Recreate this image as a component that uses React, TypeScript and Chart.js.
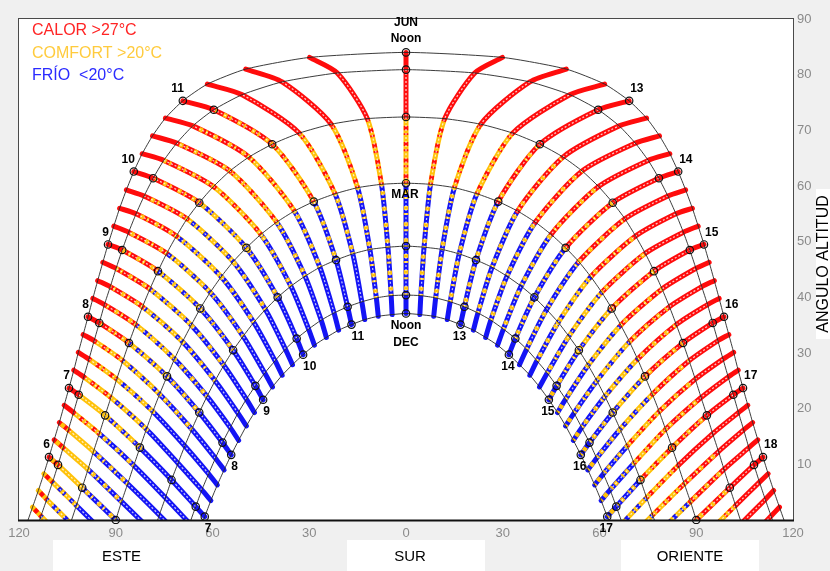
import { useEffect, useRef } from 'react';
import { Chart, registerables } from 'chart.js';

Chart.register(...registerables);

// ---- time of day (solar), every 15 minutes ----
const TIMES = ['5:15','5:30','5:45','6:00','6:15','6:30','6:45','7:00','7:15','7:30','7:45','8:00','8:15','8:30','8:45','9:00','9:15','9:30','9:45','10:00','10:15','10:30','10:45','11:00','11:15','11:30','11:45','12:00','12:15','12:30','12:45','13:00','13:15','13:30','13:45','14:00','14:15','14:30','14:45','15:00','15:15','15:30','15:45','16:00','16:15','16:30','16:45','17:00','17:15','17:30','17:45','18:00','18:15','18:30','18:45'];

// ---- date levels (21st of month), from lowest to highest path ----
const LEVELS = ['DEC', 'ENE/NOV', 'FEB/OCT', 'MAR/SEP', 'ABR/AGO', 'MAY/JUL', 'JUN'];

// altitude (deg) and azimuth from south (deg, east negative) for every time
const DEC_ALT = [null,null,null,null,null,null,null,0.6,3.5,6.3,9.0,11.7,14.3,16.9,19.3,21.6,23.9,26.0,27.9,29.7,31.4,32.8,34.1,35.1,36.0,36.6,36.9,37.1,36.9,36.6,36.0,35.1,34.1,32.8,31.4,29.7,27.9,26.0,23.9,21.6,19.3,16.9,14.3,11.7,9.0,6.3,3.5,0.6,null,null,null,null,null,null,null];
const DEC_AZ = [null,null,null,null,null,null,null,-62.4,-60.5,-58.5,-56.4,-54.2,-51.9,-49.5,-47.0,-44.3,-41.4,-38.4,-35.2,-31.9,-28.4,-24.7,-20.9,-16.9,-12.8,-8.6,-4.3,0,4.3,8.6,12.8,16.9,20.9,24.7,28.4,31.9,35.2,38.4,41.4,44.3,47.0,49.5,51.9,54.2,56.4,58.5,60.5,62.4,null,null,null,null,null,null,null];

const JAN_ALT = [null,null,null,null,null,-3.6,-0.6,2.4,5.4,8.3,11.1,13.9,16.6,19.2,21.7,24.1,26.4,28.6,30.7,32.6,34.3,35.9,37.2,38.3,39.2,39.9,40.3,40.4,40.3,39.9,39.2,38.3,37.2,35.9,34.3,32.6,30.7,28.6,26.4,24.1,21.7,19.2,16.6,13.9,11.1,8.3,5.4,2.4,-0.6,-3.6,null,null,null,null,null];
const JAN_AZ = [null,null,null,null,null,-68.9,-67.1,-65.2,-63.3,-61.2,-59.1,-56.9,-54.5,-52.1,-49.5,-46.7,-43.8,-40.6,-37.4,-33.9,-30.2,-26.3,-22.3,-18.1,-13.7,-9.2,-4.6,0,4.6,9.2,13.7,18.1,22.3,26.3,30.2,33.9,37.4,40.6,43.8,46.7,49.5,52.1,54.5,56.9,59.1,61.2,63.3,65.2,67.1,68.9,null,null,null,null,null];

const FEB_ALT = [null,null,null,null,-2.3,0.9,4.0,7.2,10.2,13.3,16.3,19.3,22.2,25.0,27.8,30.5,33.0,35.5,37.8,40.0,42.0,43.8,45.4,46.7,47.8,48.6,49.0,49.2,49.0,48.6,47.8,46.7,45.4,43.8,42.0,40.0,37.8,35.5,33.0,30.5,27.8,25.0,22.2,19.3,16.3,13.3,10.2,7.2,4.0,0.9,-2.3,null,null,null,null];
const FEB_AZ = [null,null,null,null,-78.3,-76.5,-74.6,-72.7,-70.7,-68.6,-66.4,-64.1,-61.7,-59.2,-56.5,-53.6,-50.5,-47.2,-43.6,-39.8,-35.7,-31.3,-26.7,-21.7,-16.5,-11.2,-5.6,0,5.6,11.2,16.5,21.7,26.7,31.3,35.7,39.8,43.6,47.2,50.5,53.6,56.5,59.2,61.7,64.1,66.4,68.6,70.7,72.7,74.6,76.5,78.3,null,null,null,null];

const MAR_ALT = [null,null,-3.3,0,3.3,6.5,9.8,13.0,16.3,19.5,22.6,25.8,28.9,32.0,35.0,38.0,40.9,43.7,46.4,48.9,51.3,53.5,55.5,57.2,58.6,59.7,60.3,60.5,60.3,59.7,58.6,57.2,55.5,53.5,51.3,48.9,46.4,43.7,40.9,38.0,35.0,32.0,28.9,25.8,22.6,19.5,16.3,13.0,9.8,6.5,3.3,0,-3.3,null,null];
const MAR_AZ = [null,null,-91.9,-90.0,-88.2,-86.3,-84.4,-82.5,-80.5,-78.5,-76.4,-74.1,-71.8,-69.3,-66.6,-63.8,-60.7,-57.3,-53.6,-49.5,-45.0,-40.1,-34.6,-28.6,-22.0,-15.0,-7.6,0,7.6,15.0,22.0,28.6,34.6,40.1,45.0,49.5,53.6,57.3,60.7,63.8,66.6,69.3,71.8,74.1,76.4,78.5,80.5,82.5,84.4,86.3,88.2,90.0,91.9,null,null];

const APR_ALT = [-3.7,-0.6,2.6,5.8,9.1,12.3,15.5,18.8,22.0,25.3,28.6,31.8,35.1,38.3,41.5,44.7,47.9,51.0,54.1,57.0,59.9,62.7,65.2,67.5,69.5,71.1,72.1,72.4,72.1,71.1,69.5,67.5,65.2,62.7,59.9,57.0,54.1,51.0,47.9,44.7,41.5,38.3,35.1,31.8,28.6,25.3,22.0,18.8,15.5,12.3,9.1,5.8,2.6,-0.6,-3.7];
const APR_AZ = [-105.9,-104.0,-102.2,-100.4,-98.6,-96.9,-95.1,-93.3,-91.5,-89.7,-87.8,-85.9,-83.8,-81.7,-79.4,-76.9,-74.2,-71.2,-67.9,-64.1,-59.7,-54.6,-48.7,-41.5,-33.1,-23.2,-12.0,0,12.0,23.2,33.1,41.5,48.7,54.6,59.7,64.1,67.9,71.2,74.2,76.9,79.4,81.7,83.8,85.9,87.8,89.7,91.5,93.3,95.1,96.9,98.6,100.4,102.2,104.0,105.9];

const MAY_ALT = [0.7,3.7,6.8,9.9,13.0,16.2,19.3,22.5,25.7,28.9,32.2,35.4,38.7,41.9,45.2,48.5,51.7,55.0,58.2,61.4,64.6,67.7,70.8,73.7,76.4,78.7,80.3,80.9,80.3,78.7,76.4,73.7,70.8,67.7,64.6,61.4,58.2,55.0,51.7,48.5,45.2,41.9,38.7,35.4,32.2,28.9,25.7,22.5,19.3,16.2,13.0,9.9,6.8,3.7,0.7];
const MAY_AZ = [-113.2,-111.4,-109.6,-107.9,-106.3,-104.7,-103.1,-101.5,-99.9,-98.3,-96.7,-95.1,-93.5,-91.7,-89.9,-88.0,-86.0,-83.7,-81.2,-78.4,-75.1,-71.1,-66.1,-59.6,-50.8,-38.4,-21.3,0,21.3,38.4,50.8,59.6,66.1,71.1,75.1,78.4,81.2,83.7,86.0,88.0,89.9,91.7,93.5,95.1,96.7,98.3,99.9,101.5,103.1,104.7,106.3,107.9,109.6,111.4,113.2];

const JUN_ALT = [2.3,5.3,8.3,11.3,14.4,17.5,20.6,23.7,26.9,30.1,33.3,36.5,39.8,43.0,46.3,49.5,52.8,56.0,59.3,62.6,65.8,69.0,72.2,75.3,78.3,81.0,83.1,84.0,83.1,81.0,78.3,75.3,72.2,69.0,65.8,62.6,59.3,56.0,52.8,49.5,46.3,43.0,39.8,36.5,33.3,30.1,26.9,23.7,20.6,17.5,14.4,11.3,8.3,5.3,2.3];
const JUN_AZ = [-115.8,-114.0,-112.3,-110.7,-109.1,-107.5,-106.0,-104.5,-103.0,-101.6,-100.1,-98.6,-97.1,-95.6,-94.0,-92.4,-90.6,-88.8,-86.7,-84.4,-81.8,-78.6,-74.6,-69.2,-61.6,-49.7,-29.9,0,29.9,49.7,61.6,69.2,74.6,78.6,81.8,84.4,86.7,88.8,90.6,92.4,94.0,95.6,97.1,98.6,100.1,101.6,103.0,104.5,106.0,107.5,109.1,110.7,112.3,114.0,115.8];

// sunrise / sunset azimuth of each date path
const RISE_AZ = [62.8, 66.7, 77.0, 90.0, 103.7, 113.6, 117.2];

// temperature class along each time line, per segment (DEC-ENE .. MAY-JUN); main + mixed
const COLOR_SPEC = [
  '- - - - YB YR', '- - - - YB YR', '- - - B YB YR', '- - - BY Y RY', '- - B BY Y RY', '- B B BY Y RY', '- B B BY YR R',
  'B B B YB Y R', 'B B B YB YR R', 'B B B YB YR R', 'B B BY YB YR R',
  'B B BY YB RY R', 'B B BY YB RY R', 'B B BY YB RY R', 'B B BY YB RY R',
  'B B BY YB RY R', 'B B BY YB RY R', 'B B BY YB RY R', 'B B BY YB RY R',
  'B B BY YB RY R', 'B B BY YR RY R', 'B B BY YR RY R', 'B B BY YR RY R',
  'B B BY YR RY R', 'B B BY YR R R', 'B BY BY YR R R', 'B BY BY YR R R',
  'B BY BY YR R R',
  'B BY BY YR R R', 'B BY BY YR R R', 'B BY BY YR R R',
  'B BY BY RY R R', 'B BY BY RY R R', 'B BY BY RY R R', 'B BY BY RY R R',
  'B BY BY RY R R', 'B BY BY RY R R', 'B BY YB RY R R', 'B BY YB RY R R',
  'BY BY YB RY R R', 'BY BY YB RY R R', 'BY BY YB RY R R', 'BY BY YB RY R R',
  'BY BY YB RY R R', 'BY BY YB RY R R', 'BY BY YR RY R R', 'BY BY YR RY R R',
  'BY BY YR RY R R', '- YB YR R R R', '- YB YR RY R R', '- - YB RY R R',
  '- - - RY R R', '- - - YR R R', '- - - - R R', '- - - - R R',
];

const X_TICKS = [-120, -90, -60, -30, 0, 30, 60, 90, 120];
const Y_TICKS = [10, 20, 30, 40, 50, 60, 70, 80, 90];
const HOUR_TIMES = ['6:00','7:00','8:00','9:00','10:00','11:00','12:00','13:00','14:00','15:00','16:00','17:00','18:00'];
const OUTER_HOURS = ['6:00','7:00','8:00','9:00','10:00','11:00','13:00','14:00','15:00','16:00','17:00','18:00'];
const INNER_HOURS = ['7:00','8:00','9:00','10:00','11:00','13:00','14:00','15:00','16:00','17:00'];
const LEGEND_TEXT = ['CALOR >27°C', 'COMFORT >20°C', 'FRÍO  <20°C'];
const COMPASS = ['ESTE', 'SUR', 'ORIENTE'];
const Y_TITLE = 'ANGULO ALTITUD';

const ALTS = [DEC_ALT, JAN_ALT, FEB_ALT, MAR_ALT, APR_ALT, MAY_ALT, JUN_ALT];
const AZS = [DEC_AZ, JAN_AZ, FEB_AZ, MAR_AZ, APR_AZ, MAY_AZ, JUN_AZ];

const COLORS: Record<string, string> = { R: '#ff0c0c', Y: '#ffc20a', B: '#1414f5' };
const LEGEND_COLORS = ['#ff2424', '#ffcb3d', '#2b2bff'];
const SANS = "'Liberation Sans', Arial, sans-serif";
const CLEAR = 'rgba(0,0,0,0)';

function buildDatasets() {
  const ds: any[] = [];
  // hour markers (on top)
  const markers: any[] = [];
  HOUR_TIMES.forEach((t) => {
    const i = TIMES.indexOf(t);
    for (let lv = 0; lv < LEVELS.length; lv++) {
      const a = ALTS[lv][i];
      if (a !== null && a >= 0) markers.push({ x: AZS[lv][i], y: a });
    }
  });
  ds.push({
    data: markers, showLine: false, order: 1, pointRadius: 3.7, pointBorderWidth: 1.2,
    pointBorderColor: '#111', pointBackgroundColor: CLEAR, clip: 4,
  });
  // daily paths
  for (let lv = 0; lv < LEVELS.length; lv++) {
    const pts: any[] = [{ x: -RISE_AZ[lv], y: 0 }];
    TIMES.forEach((_, i) => {
      const a = ALTS[lv][i];
      if (a !== null && a >= 0) pts.push({ x: AZS[lv][i], y: a });
    });
    pts.push({ x: RISE_AZ[lv], y: 0 });
    ds.push({
      data: pts, order: 2, borderColor: '#262626', borderWidth: 0.9, pointRadius: 0, tension: 0.2, clip: 0,
    });
  }
  // 15-minute lines coloured by temperature
  TIMES.forEach((_, i) => {
    const pts: any[] = [];
    for (let lv = 0; lv < LEVELS.length; lv++) {
      const a = ALTS[lv][i];
      if (a !== null) pts.push({ x: AZS[lv][i], y: a, lv });
    }
    const spec = COLOR_SPEC[i].split(' ');
    const segLv = (ctx: any) => pts[ctx.p0DataIndex].lv;
    const segCode = (ctx: any) => spec[segLv(ctx)] || 'B';
    ds.push({
      data: pts, order: 6, borderWidth: 5, pointRadius: 0, tension: 0.25, clip: 0,
      borderColor: COLORS.B, borderCapStyle: 'round',
      segment: { borderColor: (ctx: any) => COLORS[segCode(ctx)[0]] || COLORS.B },
    });
    ds.push({
      data: pts, order: 5, borderWidth: 4.5, pointRadius: 0, tension: 0.25, clip: 0,
      borderColor: CLEAR,
      segment: {
        borderColor: (ctx: any) => { const c = segCode(ctx); return c.length > 1 ? COLORS[c[1]] : CLEAR; },
        borderDash: () => [2, 3, 4, 7],
      },
    });
    // hollow-ring texture in the sparse middle part of each line
    ds.push({
      data: pts, order: 4, borderWidth: 1.3, pointRadius: 0, tension: 0.25, clip: 0,
      borderColor: CLEAR,
      segment: {
        borderColor: (ctx: any) => {
          const lv = segLv(ctx);
          return lv >= 1 && lv <= 4 ? 'rgba(255,255,255,0.75)' : CLEAR;
        },
        borderDash: () => [2, 2],
      },
    });
  });
  return ds;
}

const decorPlugin = {
  id: 'sunDecor',
  beforeDraw(chart: any) {
    const { ctx, chartArea: a } = chart;
    ctx.save();
    ctx.fillStyle = '#f0f0f0';
    ctx.fillRect(0, 0, chart.width, chart.height);
    ctx.fillStyle = '#ffffff';
    ctx.fillRect(a.left, a.top, a.right - a.left, a.bottom - a.top);
    ctx.restore();
  },
  afterDatasetsDraw(chart: any) {
    const { ctx, chartArea: a } = chart;
    const xs = chart.scales.x, ys = chart.scales.y;
    const P = (lv: number, t: string) => {
      const i = TIMES.indexOf(t);
      return [xs.getPixelForValue(AZS[lv][i]), ys.getPixelForValue(ALTS[lv][i])];
    };
    ctx.save();
    // frame
    ctx.strokeStyle = '#4a4a4a';
    ctx.lineWidth = 1;
    ctx.strokeRect(a.left - 0.5, a.top - 0.5, a.right - a.left + 1, a.bottom - a.top + 1);
    ctx.strokeStyle = '#111';
    ctx.lineWidth = 2;
    ctx.beginPath();
    ctx.moveTo(a.left - 1, a.bottom + 0.5);
    ctx.lineTo(a.right + 1, a.bottom + 0.5);
    ctx.stroke();

    // hour labels
    ctx.fillStyle = '#000';
    ctx.font = `bold 12px ${SANS}`;
    ctx.textBaseline = 'middle';
    OUTER_HOURS.forEach((t) => {
      const [px, py] = P(6, t);
      const h = parseInt(t, 10);
      ctx.textAlign = h < 12 ? 'right' : 'left';
      ctx.fillText(String(h), px + 1, py - 12);
    });
    INNER_HOURS.forEach((t) => {
      const [px, py] = P(0, t);
      const h = parseInt(t, 10);
      ctx.textAlign = h < 12 ? 'left' : 'center';
      ctx.fillText(String(h), h < 12 ? px : px - 1, py + 12);
    });
    ctx.textAlign = 'center';
    const [jx, jy] = P(6, '12:00');
    ctx.fillText(LEVELS[6], jx, jy - 30);
    ctx.fillText('Noon', jx, jy - 13.5);
    const [mx, my] = P(3, '12:00');
    ctx.fillText('MAR', mx - 1, my + 11);
    const [dx, dy] = P(0, '12:00');
    ctx.fillText('Noon', dx, dy + 12);
    ctx.fillText(LEVELS[0], dx, dy + 29);

    // legend
    ctx.textAlign = 'left';
    ctx.font = `16px ${SANS}`;
    LEGEND_TEXT.forEach((s, k) => {
      ctx.fillStyle = LEGEND_COLORS[k];
      ctx.fillText(s, 32, 31 + k * 22.5);
    });
    ctx.restore();
  },
  afterDraw(chart: any) {
    const { ctx } = chart;
    ctx.save();
    // compass boxes
    const boxes = [[53, 190, 121.5], [347, 485, 410], [621, 759, 690]];
    ctx.font = `15px ${SANS}`;
    ctx.textAlign = 'center';
    ctx.textBaseline = 'middle';
    COMPASS.forEach((s, k) => {
      const [l, r, c] = boxes[k];
      ctx.fillStyle = '#fff';
      ctx.fillRect(l, 540, r - l, 31);
      ctx.fillStyle = '#000';
      ctx.fillText(s, c, 557);
    });
    // vertical title
    ctx.fillStyle = '#fff';
    ctx.fillRect(816, 189, 14, 150);
    ctx.translate(824, 264);
    ctx.rotate(-Math.PI / 2);
    ctx.fillStyle = '#000';
    ctx.font = `16px ${SANS}`;
    ctx.fillText(Y_TITLE, 0, 0);
    ctx.restore();
  },
};

export default function App() {
  const ref = useRef<HTMLCanvasElement | null>(null);
  useEffect(() => {
    const canvas = ref.current;
    if (!canvas) return;
    const chart = new Chart(canvas, {
      type: 'line',
      data: { datasets: buildDatasets() },
      options: {
        responsive: false,
        animation: false,
        events: [],
        layout: { padding: { left: 19, top: 19, right: 0, bottom: 0 } },
        plugins: { legend: { display: false }, tooltip: { enabled: false }, title: { display: false } },
        scales: {
          x: {
            type: 'linear', min: -120, max: 120, position: 'bottom',
            afterBuildTicks: (s: any) => { s.ticks = X_TICKS.map((v) => ({ value: v })); },
            afterFit: (s: any) => { s.height = 51; },
            ticks: {
              callback: (v: any) => String(Math.abs(Number(v))),
              color: '#8a8a8a', font: { family: SANS, size: 13 }, padding: 6, maxRotation: 0, autoSkip: false,
            },
            grid: { display: false, drawTicks: false },
            border: { display: false },
          },
          y: {
            type: 'linear', min: 0, max: 90, position: 'right',
            afterBuildTicks: (s: any) => { s.ticks = Y_TICKS.map((v) => ({ value: v })); },
            afterFit: (s: any) => { s.width = 37; },
            ticks: { color: '#8a8a8a', font: { family: SANS, size: 13 }, padding: 4, autoSkip: false },
            grid: { display: false, drawTicks: false },
            border: { display: false },
          },
        },
      } as any,
      plugins: [decorPlugin],
    });
    return () => chart.destroy();
  }, []);
  return (
    <div style={{ position: 'fixed', left: 0, top: 0, width: 830, height: 571, background: '#f0f0f0' }}>
      <canvas ref={ref} width={830} height={571} style={{ display: 'block', width: 830, height: 571 }} />
    </div>
  );
}
